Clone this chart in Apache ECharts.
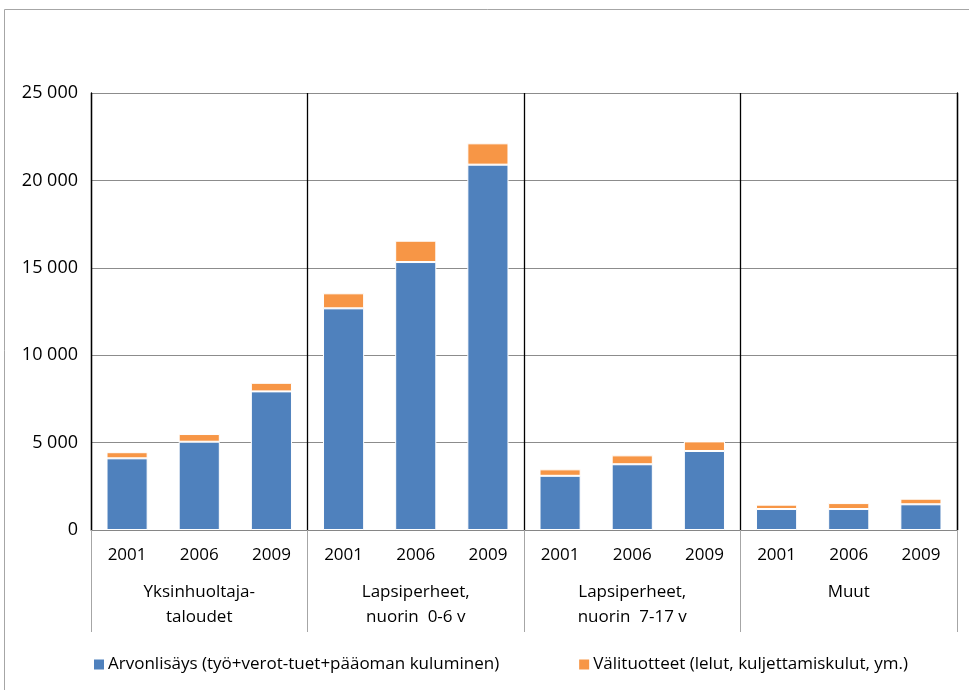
<!DOCTYPE html>
<html>
<head>
<meta charset="utf-8">
<script src="https://cdn.jsdelivr.net/npm/echarts@6/dist/echarts.min.js"></script>
<style>html,body{margin:0;padding:0;background:#fff}#c{width:969px;height:690px}</style>
</head>
<body>
<div id="c"></div>
<script>
var years = ['2001','2006','2009','2001','2006','2009','2001','2006','2009','2001','2006','2009'];
var groups = ['Yksinhuoltaja-\ntaloudet', 'Lapsiperheet,\nnuorin  0-6 v', 'Lapsiperheet,\nnuorin  7-17 v', 'Muut'];
var seriesNames = ['Arvonlisäys (työ+verot-tuet+pääoman kuluminen)', 'Välituotteet (lelut, kuljettamiskulut, ym.)'];
var arvonlisays = [4100, 5050, 7930, 12680, 15330, 20900, 3100, 3760, 4520, 1200, 1200, 1470];
var valituotteet = [350, 440, 490, 860, 1220, 1220, 370, 510, 550, 250, 340, 320];
var yTicks = [0, 5000, 10000, 15000, 20000, 25000];

var FONT = 'Open Sans';
var FS = 17;
var chart = echarts.init(document.getElementById('c'));
chart.setOption({
  animation: false,
  textStyle: { fontFamily: FONT },
  graphic: [{
    type: 'rect', shape: { x: 4.5, y: 9.5, width: 1000, height: 1000 },
    style: { fill: 'none', stroke: '#a6a6a6', lineWidth: 1 }, z: -1
  }],
  grid: { left: 91, right: 12, top: 93, bottom: 160 },
  legend: {
    left: 87, top: 651,
    itemWidth: 12, itemHeight: 12, itemGap: 78, icon: 'rect',
    textStyle: { fontFamily: FONT, fontSize: FS, color: '#000', padding: [0, 0, 0, -2] },
    data: seriesNames
  },
  xAxis: [{
    type: 'category', data: years, position: 'bottom',
    axisLine: { show: true, lineStyle: { color: '#868686', width: 1 } },
    axisTick: { show: false },
    axisLabel: { fontFamily: FONT, fontSize: FS, color: '#000', margin: 17, interval: 0 },
    splitLine: { show: false }
  }, {
    type: 'category', data: groups, position: 'bottom', offset: 0,
    axisLine: { show: false },
    axisTick: { show: true, length: 102, interval: 0, lineStyle: { color: '#a6a6a6', width: 1 } },
    axisLabel: { fontFamily: FONT, fontSize: FS, color: '#000', margin: 50, lineHeight: 25, interval: 0 },
    splitLine: { show: true, interval: 0, lineStyle: { color: '#000', width: 1.3 } }
  }],
  yAxis: [{
    type: 'value', min: yTicks[0], max: yTicks[yTicks.length - 1], interval: 5000,
    axisLine: { show: true, lineStyle: { color: '#000', width: 1.3 } },
    axisTick: { show: false },
    splitLine: { show: true, lineStyle: { color: '#8c8c8c', width: 1.2 } },
    axisLabel: {
      fontFamily: FONT, fontSize: 18, color: '#000', margin: 13,
      formatter: function (v) { return String(v).replace(/\B(?=(\d{3})+(?!\d))/g, ' '); }
    }
  }, {
    type: 'value', position: 'right', min: yTicks[0], max: yTicks[yTicks.length - 1], interval: 5000,
    axisLine: { show: true, lineStyle: { color: '#000', width: 1.3 } },
    axisTick: { show: false }, axisLabel: { show: false }, splitLine: { show: false }
  }],
  series: [{
    name: seriesNames[0], type: 'bar', stack: 'a', data: arvonlisays, barWidth: '57%',
    itemStyle: { color: '#4F81BD', borderColor: '#fff', borderWidth: 1 }
  }, {
    name: seriesNames[1], type: 'bar', stack: 'a', data: valituotteet, barWidth: '57%',
    itemStyle: { color: '#F79646', borderColor: '#fff', borderWidth: 1 }
  }]
});
</script>
</body>
</html>
